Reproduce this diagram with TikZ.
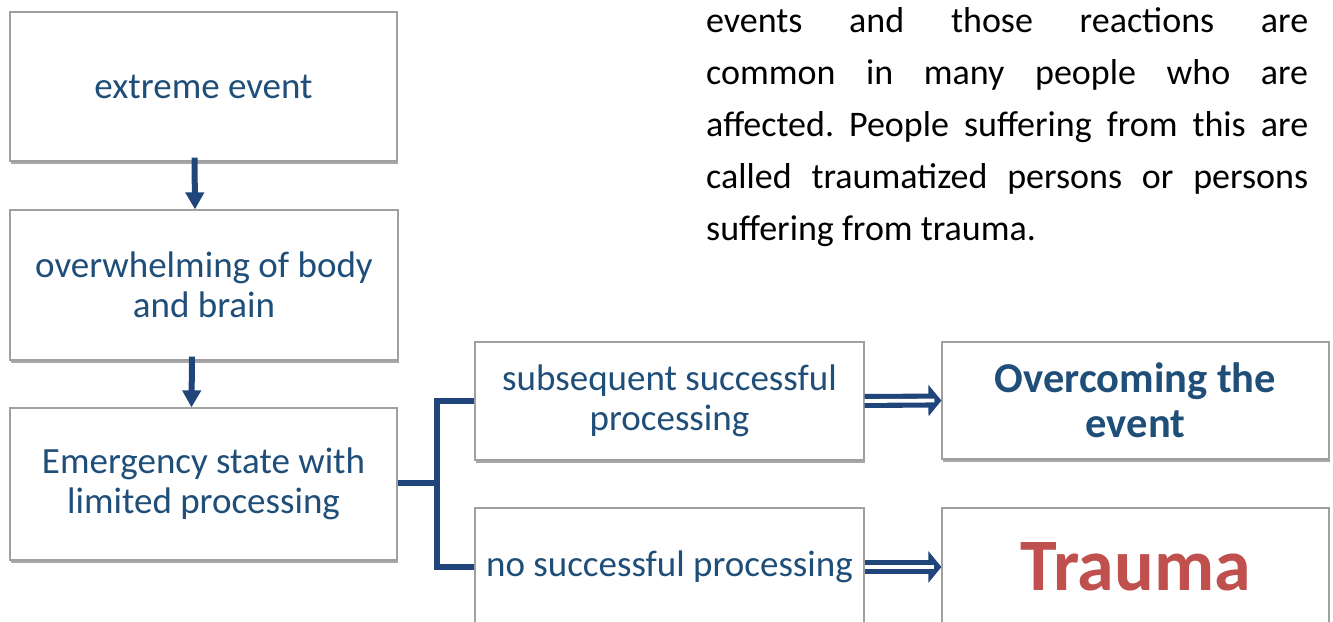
\documentclass[tikz,border=0pt]{standalone}
\usepackage{fontspec}
\setmainfont{Carlito}
\frenchspacing
\usetikzlibrary{arrows.meta,shadows,calc}
\definecolor{navy}{HTML}{1F457A}
\definecolor{boxtext}{HTML}{1F4E79}
\definecolor{traumared}{HTML}{C0504D}
\definecolor{boxline}{HTML}{A0A0A0}
\tikzset{
  box/.style={draw=boxline, line width=1.2pt, fill=white, rectangle, align=center,
    text=boxtext, inner sep=2pt,
    drop shadow={shadow xshift=1.3pt, shadow yshift=-2.6pt, opacity=0.45, fill=black!75}},
  boxfont/.style={font=\fontsize{37}{40}\selectfont},
  downarrow/.style={draw=navy, line width=6pt, -{Triangle[length=17pt,width=18pt]}},
  bracket/.style={draw=navy, line width=6pt, line join=miter},
  dblouter/.style={draw=navy, line width=14pt, -{Triangle[length=13pt,width=31pt]}},
  dblinner/.style={draw=white, line width=3.8pt, shorten >=7pt},
  para/.style={anchor=base west, inner sep=0pt, text=black, font=\fontsize{36}{52}\selectfont}
}
\begin{document}
\begin{tikzpicture}[x=1pt,y=1pt]
\path[use as bounding box] (0,0) rectangle (1333,621);
\clip (0,0) rectangle (1333,621);
\fill[white] (0,0) rectangle (1333,621);

% left column
\node[box, boxfont, minimum width=387pt, minimum height=149pt] (b1) at (203.5,534.5) {extreme event};
\node[box, boxfont, minimum width=388pt, minimum height=150pt] (b2) at (204,336) {overwhelming of body\\and brain};
\node[box, boxfont, minimum width=387pt, minimum height=152pt] (b3) at (203.5,137) {Emergency state with\\limited processing};

% middle column
\node[box, boxfont, minimum width=389pt, minimum height=118pt] (b4) at (669.5,220) {subsequent successful\\processing};
\node[box, boxfont, minimum width=389pt, minimum height=118pt] (b5) at (669.5,54) {no successful processing};

% right column
\node[box, font=\bfseries\fontsize{42.5}{45}\selectfont, minimum width=387pt, minimum height=117pt] (b6) at (1135.5,220.5) {Overcoming the\\event};
\node[box, text=traumared, font=\bfseries\fontsize{74}{78}\selectfont, minimum width=387pt, minimum height=118pt] (b7) at (1135.5,54) {Trauma};

% arrows
\draw[downarrow] ([xshift=-9pt,yshift=4pt]b1.south) -- ([xshift=-9pt]b2.north);
\draw[downarrow] ([xshift=-12pt,yshift=4pt]b2.south) -- ([xshift=-12pt]b3.north);

\coordinate (fork) at (437,138);
\draw[bracket] (b3.east |- fork) -- (fork);
\draw[bracket] (b4.west) -| (fork) |- (b5.west);

\draw[dblouter] (b4.east) -- (b6.west);
\draw[dblinner] (b4.east) -- (b6.west);
\draw[dblouter] (b5.east) -- (b7.west);
\draw[dblinner] (b5.east) -- (b7.west);

% paragraph
\node[para] (p1) at (706,588) {\makebox[602pt][s]{events and those reactions are}};
\node[para] (p2) at (706,536) {\makebox[602pt][s]{common in many people who are}};
\node[para] (p3) at (706,484) {\makebox[602pt][s]{affected. People suffering from this are}};
\node[para] (p4) at (706,432) {\makebox[602pt][s]{called traumatized persons or persons}};
\node[para] (p5) at (706,380) {suffering from trauma.};
\end{tikzpicture}
\end{document}
